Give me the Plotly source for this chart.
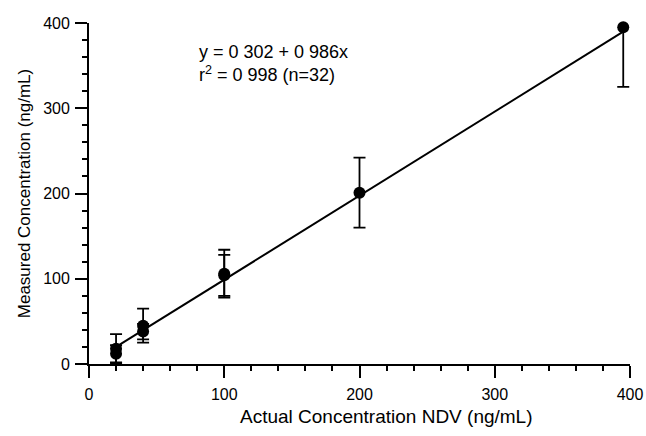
import plotly.graph_objects as go

# Data
actual = [20, 20, 40, 40, 100, 100, 200, 395]
measured = [12, 18, 38, 45, 104, 106, 201, 395]
err = [10, 17, 9, 20, 24, 28, 41, 70]

intercept = 0.302
slope = 0.986
fit_x = [20, 395]
fit_y = [intercept + slope * v for v in fit_x]

eq_lines = ["y = 0 302 + 0 986x", "r<sup>2</sup> = 0 998 (n=32)"]
x_title = "Actual Concentration NDV (ng/mL)"
y_title = "Measured Concentration (ng/mL)"

font = "Liberation Sans, Arial, sans-serif"

fig = go.Figure()
fig.add_trace(go.Scatter(x=fit_x, y=fit_y, mode="lines",
                         line=dict(color="black", width=2), showlegend=False))
fig.add_trace(go.Scatter(x=actual, y=measured, mode="markers",
                         marker=dict(color="rgba(0,0,0,0)", size=1),
                         error_y=dict(type="data", array=err, color="black",
                                      thickness=1.8, width=6),
                         cliponaxis=True, showlegend=False))
fig.add_trace(go.Scatter(x=actual, y=measured, mode="markers",
                         marker=dict(color="black", size=12),
                         cliponaxis=False, showlegend=False))

fig.add_annotation(x=80, y=353, xref="x", yref="y", xanchor="left", yanchor="middle",
                   text="<br>".join(eq_lines), showarrow=False, align="left",
                   font=dict(family=font, size=18, color="black"))
# x-axis title (placed slightly right of centre, as in the reference)
fig.add_annotation(x=0.549, y=-0.155, xref="paper", yref="paper", xanchor="center",
                   yanchor="middle", text=x_title, showarrow=False,
                   font=dict(family=font, size=19, color="black"))

axis_common = dict(
    showgrid=False, zeroline=False, showline=True, linecolor="black", linewidth=1.8,
    ticks="outside", ticklen=12, tickwidth=2, tickcolor="black",
    tickfont=dict(family=font, size=16, color="black"),
    range=[0, 400], tickmode="linear", dtick=100, tick0=0, automargin=False,
    minor=dict(ticks="outside", ticklen=5, tickwidth=1.5, tickcolor="black",
               dtick=20, tick0=0, showgrid=False),
)
fig.update_layout(
    template="simple_white",
    xaxis=dict(**axis_common, ticklabelstandoff=3),
    yaxis=dict(**axis_common, ticklabelstandoff=2,
               title=dict(text=y_title, font=dict(family=font, size=17, color="black"),
                          standoff=8)),
)

fig.update_layout(width=646, height=436, plot_bgcolor="white", paper_bgcolor="white",
                  margin=dict(l=89, r=16, t=23, b=72), showlegend=False)

fig.write_html("out.html", config={"displayModeBar": False},
               post_script="document.body.style.margin='0';document.body.style.padding='0';")
